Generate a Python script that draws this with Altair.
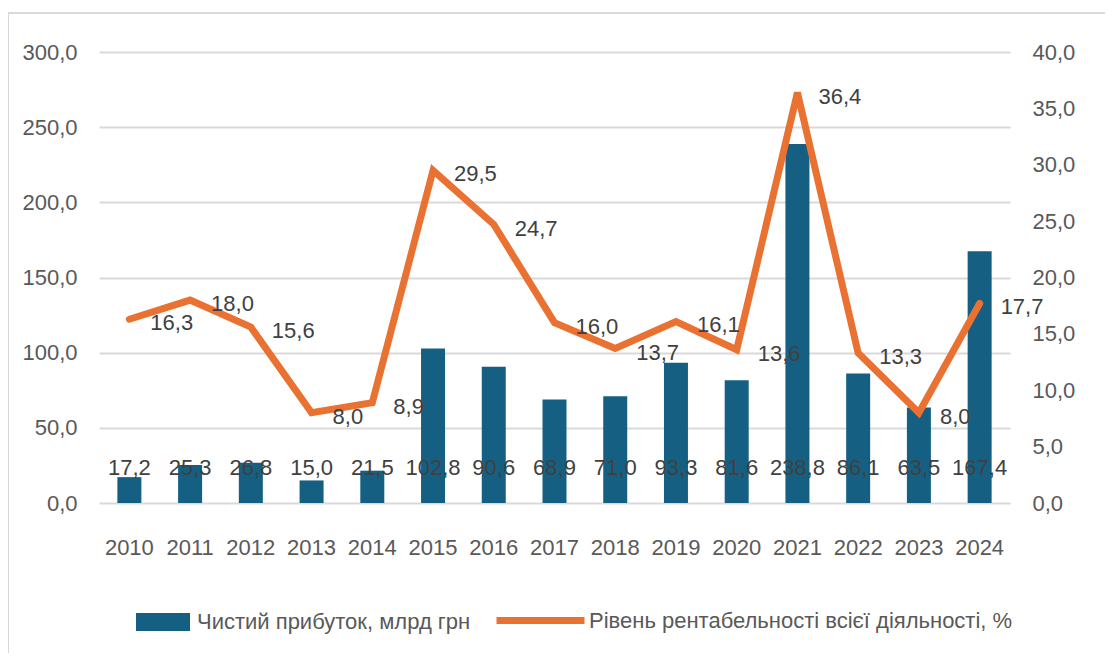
import altair as alt
import pandas as pd

years = ["2010", "2011", "2012", "2013", "2014", "2015", "2016", "2017",
         "2018", "2019", "2020", "2021", "2022", "2023", "2024"]
profit = [17.2, 25.3, 26.8, 15.0, 21.5, 102.8, 90.6, 68.9, 71.0, 93.3,
          81.6, 238.8, 86.1, 63.5, 167.4]
rate = [16.3, 18.0, 15.6, 8.0, 8.9, 29.5, 24.7, 16.0, 13.7, 16.1,
        13.6, 36.4, 13.3, 8.0, 17.7]
left_ticks = [0, 50, 100, 150, 200, 250, 300]
right_ticks = [0, 5, 10, 15, 20, 25, 30, 35, 40]
bar_name = "Чистий прибуток, млрд грн"
line_name = "Рівень рентабельності всієї діяльності, %"

BLUE = "#156082"
ORANGE = "#E97132"
GRID = "#D9D9D9"
TXT = "#595959"
FONT = "Liberation Sans"
FS = 22

df = pd.DataFrame({"year": years, "profit": profit, "rate": rate})
df["bar_series"] = bar_name
df["line_series"] = line_name
df["profit_lbl"] = [f"{v:.1f}".replace(".", ",") for v in profit]
df["rate_lbl"] = [f"{v:.1f}".replace(".", ",") for v in rate]
df["zero"] = 0

fmt = "replace(format(datum.value, '.1f'), '.', ',')"

x_axis = alt.Axis(domain=False, ticks=False, labelAngle=0,
                  labelFont=FONT, labelFontSize=FS, labelColor=TXT,
                  labelBaseline="middle", labelPadding=44)
x_scale = alt.Scale(paddingInner=0.6, paddingOuter=0.3)

left_axis = alt.Axis(values=left_ticks, labelExpr=fmt, title=None,
                     domain=False, ticks=False, grid=True, gridColor=GRID,
                     gridWidth=2, labelFont=FONT, labelFontSize=FS,
                     labelColor=TXT, labelPadding=22)
left_scale = alt.Scale(domain=[0, 300], nice=False)

right_axis = alt.Axis(orient="right", values=right_ticks, labelExpr=fmt,
                      title=None, domain=False, ticks=False, grid=False,
                      labelFont=FONT, labelFontSize=FS, labelColor=TXT,
                      labelPadding=22)
right_scale = alt.Scale(domain=[0, 40], nice=False)

base = alt.Chart(df)

bars = base.mark_bar(size=24).encode(
    x=alt.X("year:N", sort=years, title=None, scale=x_scale, axis=x_axis),
    y=alt.Y("profit:Q", title=None, scale=left_scale, axis=left_axis),
    color=alt.Color("bar_series:N", title=None,
                    scale=alt.Scale(domain=[bar_name], range=[BLUE]),
                    legend=alt.Legend(orient="none", legendX=46, legendY=552,
                                      symbolType="M-1.5,-0.5H1.5V0.5H-1.5Z",
                                      symbolSize=1296, symbolStrokeWidth=0,
                                      labelFont=FONT, labelFontSize=FS,
                                      labelColor=TXT, labelOffset=16,
                                      padding=0, labelLimit=600)),
)

bar_labels = base.mark_text(font=FONT, fontSize=FS, color="#404040",
                            baseline="middle", dy=-35).encode(
    x=alt.X("year:N", sort=years, title=None, scale=x_scale, axis=x_axis),
    y=alt.Y("zero:Q", title=None, scale=left_scale, axis=left_axis),
    text="profit_lbl:N",
)

line = base.mark_line(strokeWidth=7, strokeCap="round", strokeJoin="miter").encode(
    x=alt.X("year:N", sort=years, title=None, scale=x_scale, axis=x_axis),
    y=alt.Y("rate:Q", title=None, scale=right_scale, axis=right_axis),
    stroke=alt.Stroke("line_series:N", title=None,
                      scale=alt.Scale(domain=[line_name], range=[ORANGE]),
                      legend=alt.Legend(orient="none", legendX=394, legendY=521,
                                        symbolType="stroke", symbolSize=7744,
                                        symbolStrokeWidth=7,
                                        labelFont=FONT, labelFontSize=FS,
                                        labelColor=TXT, labelOffset=1,
                                        padding=0, labelLimit=800)),
)

line_labels = base.mark_text(font=FONT, fontSize=FS, color="#404040",
                             align="left", baseline="middle", dx=21, dy=4).encode(
    x=alt.X("year:N", sort=years, title=None, scale=x_scale, axis=x_axis),
    y=alt.Y("rate:Q", title=None, scale=right_scale, axis=right_axis),
    text="rate_lbl:N",
)

frame = alt.Chart(pd.DataFrame({"a": [0]})).mark_rect(
    fill="transparent", stroke=GRID, strokeWidth=2).encode(
    x=alt.value(-91), x2=alt.value(1040), y=alt.value(-39), y2=alt.value(640))

left = alt.layer(bars, bar_labels)
right = alt.layer(line, line_labels)

chart = alt.layer(frame, left, right).resolve_scale(
    y="independent", color="independent", stroke="independent"
).properties(
    width=911, height=451,
    autosize=alt.AutoSizeParams(type="none"),
    padding={"left": 91, "top": 44, "right": 95, "bottom": 150},
    background="white",
).configure_view(stroke=None)

chart.save("out.html", embed_options={"renderer": "svg", "actions": False})
